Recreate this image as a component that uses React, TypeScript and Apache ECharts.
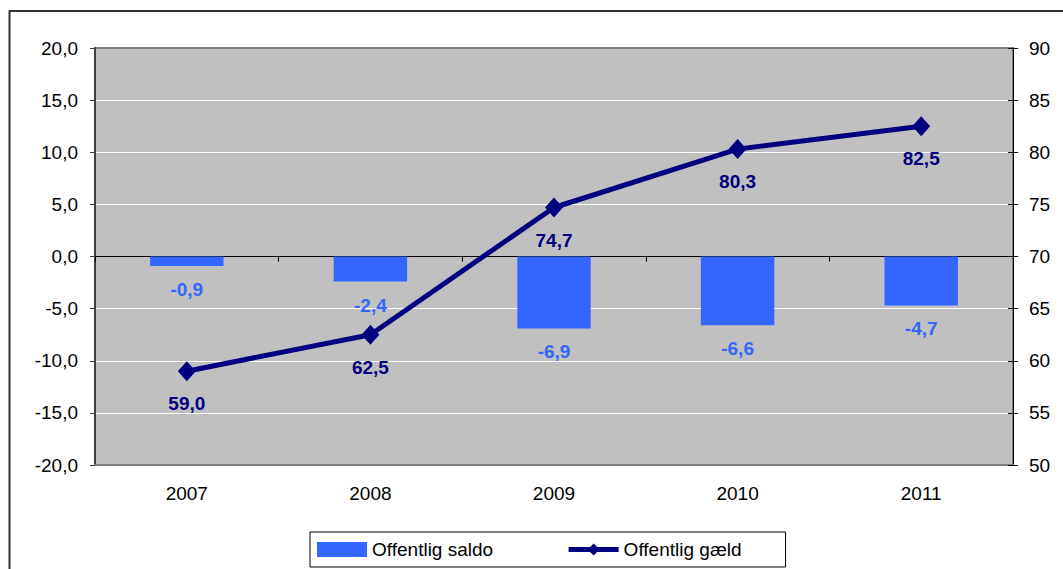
import React, { useEffect, useRef } from "react";
import * as echarts from "echarts";

const years = ["2007", "2008", "2009", "2010", "2011"];
const saldo = [-0.9, -2.4, -6.9, -6.6, -4.7];
const gaeld = [59.0, 62.5, 74.7, 80.3, 82.5];
const leftTicks = { min: -20, max: 20, interval: 5 };
const rightTicks = { min: 50, max: 90, interval: 5 };

const FONT = "'Liberation Sans', Arial, sans-serif";
const comma = (v: number) => v.toFixed(1).replace(".", ",");

export default function App() {
  const ref = useRef<HTMLDivElement>(null);
  useEffect(() => {
    if (!ref.current) return;
    const chart = echarts.init(ref.current, null, { renderer: "svg" });
    chart.setOption({
      animation: false,
      textStyle: { fontFamily: FONT },
      grid: {
        left: 95,
        right: 50,
        top: 48,
        bottom: 104,
        show: true,
        backgroundColor: "#C0C0C0",
        borderColor: "#808080",
        borderWidth: 2,
      },
      graphic: [
        {
          type: "rect",
          shape: { x: 9.5, y: 11, width: 1200, height: 700 },
          style: { fill: "none", stroke: "#333333", lineWidth: 2 },
          silent: true,
        },
      ],
      legend: {
        left: 310,
        top: 532,
        padding: [8, 44, 8, 7],
        itemGap: 73,
        itemWidth: 50,
        itemHeight: 15,
        borderColor: "#000",
        borderWidth: 1,
        backgroundColor: "#fff",
        textStyle: { fontSize: 19, color: "#000", fontFamily: FONT },
        data: [
          { name: "Offentlig saldo", icon: "rect" },
          { name: "Offentlig gæld", lineStyle: { width: 5, color: "#000080" } },
        ],
      },
      xAxis: [
        {
          type: "category",
          data: years,
          position: "bottom",
          axisLine: { show: true, onZero: false, lineStyle: { color: "#808080", width: 2 } },
          axisTick: { show: false },
          axisLabel: { margin: 19, fontSize: 19, color: "#000", fontFamily: FONT },
          splitLine: { show: false },
        },
        {
          type: "category",
          data: years,
          position: "bottom",
          axisLine: { show: true, onZero: true, onZeroAxisIndex: 0, lineStyle: { color: "#000", width: 1 } },
          axisTick: { show: true, length: 5, lineStyle: { color: "#000" } },
          axisLabel: { show: false },
          splitLine: { show: false },
        },
      ],
      yAxis: [
        {
          type: "value",
          ...leftTicks,
          position: "left",
          axisLine: { show: true, lineStyle: { color: "#404040", width: 2 } },
          axisTick: { show: true, length: 5, lineStyle: { color: "#404040" } },
          axisLabel: { margin: 17, fontSize: 19, color: "#000", fontFamily: FONT, formatter: (v: number) => comma(v) },
          splitLine: {
            show: true,
            lineStyle: {
              color: ["#808080", "#fff", "#fff", "#fff", "#fff", "#fff", "#fff", "#fff", "#808080"],
              width: 1,
            },
          },
        },
        {
          type: "value",
          ...rightTicks,
          position: "right",
          axisLine: { show: true, lineStyle: { color: "#000", width: 1 } },
          axisTick: { show: true, length: 5, lineStyle: { color: "#000" } },
          axisLabel: { margin: 16, fontSize: 19, color: "#000", fontFamily: FONT },
          splitLine: { show: false },
        },
        {
          type: "value",
          ...rightTicks,
          position: "right",
          axisLine: { show: false },
          axisTick: { show: true, inside: true, length: 5, lineStyle: { color: "#000" } },
          axisLabel: { show: false },
          splitLine: { show: false },
        },
      ],
      series: [
        {
          name: "Offentlig saldo",
          type: "bar",
          data: saldo,
          xAxisIndex: 0,
          yAxisIndex: 0,
          barWidth: "40%",
          itemStyle: { color: "#3366FF" },
          label: {
            show: true,
            position: "bottom",
            distance: 14,
            color: "#3366FF",
            fontWeight: "bold",
            fontSize: 19,
            fontFamily: FONT,
            formatter: (p: any) => comma(p.value),
          },
        },
        {
          name: "Offentlig gæld",
          type: "line",
          data: gaeld,
          xAxisIndex: 0,
          yAxisIndex: 1,
          symbol: "diamond",
          symbolSize: [18, 20],
          lineStyle: { color: "#000080", width: 5 },
          itemStyle: { color: "#000080" },
          label: {
            show: true,
            position: "bottom",
            distance: 13,
            color: "#000080",
            fontWeight: "bold",
            fontSize: 19,
            fontFamily: FONT,
            formatter: (p: any) => comma(p.value),
          },
        },
      ],
    });
    return () => chart.dispose();
  }, []);
  return (
    <div
      ref={ref}
      style={{ position: "absolute", left: 0, top: 0, width: 1063, height: 569, background: "#fff" }}
    />
  );
}
